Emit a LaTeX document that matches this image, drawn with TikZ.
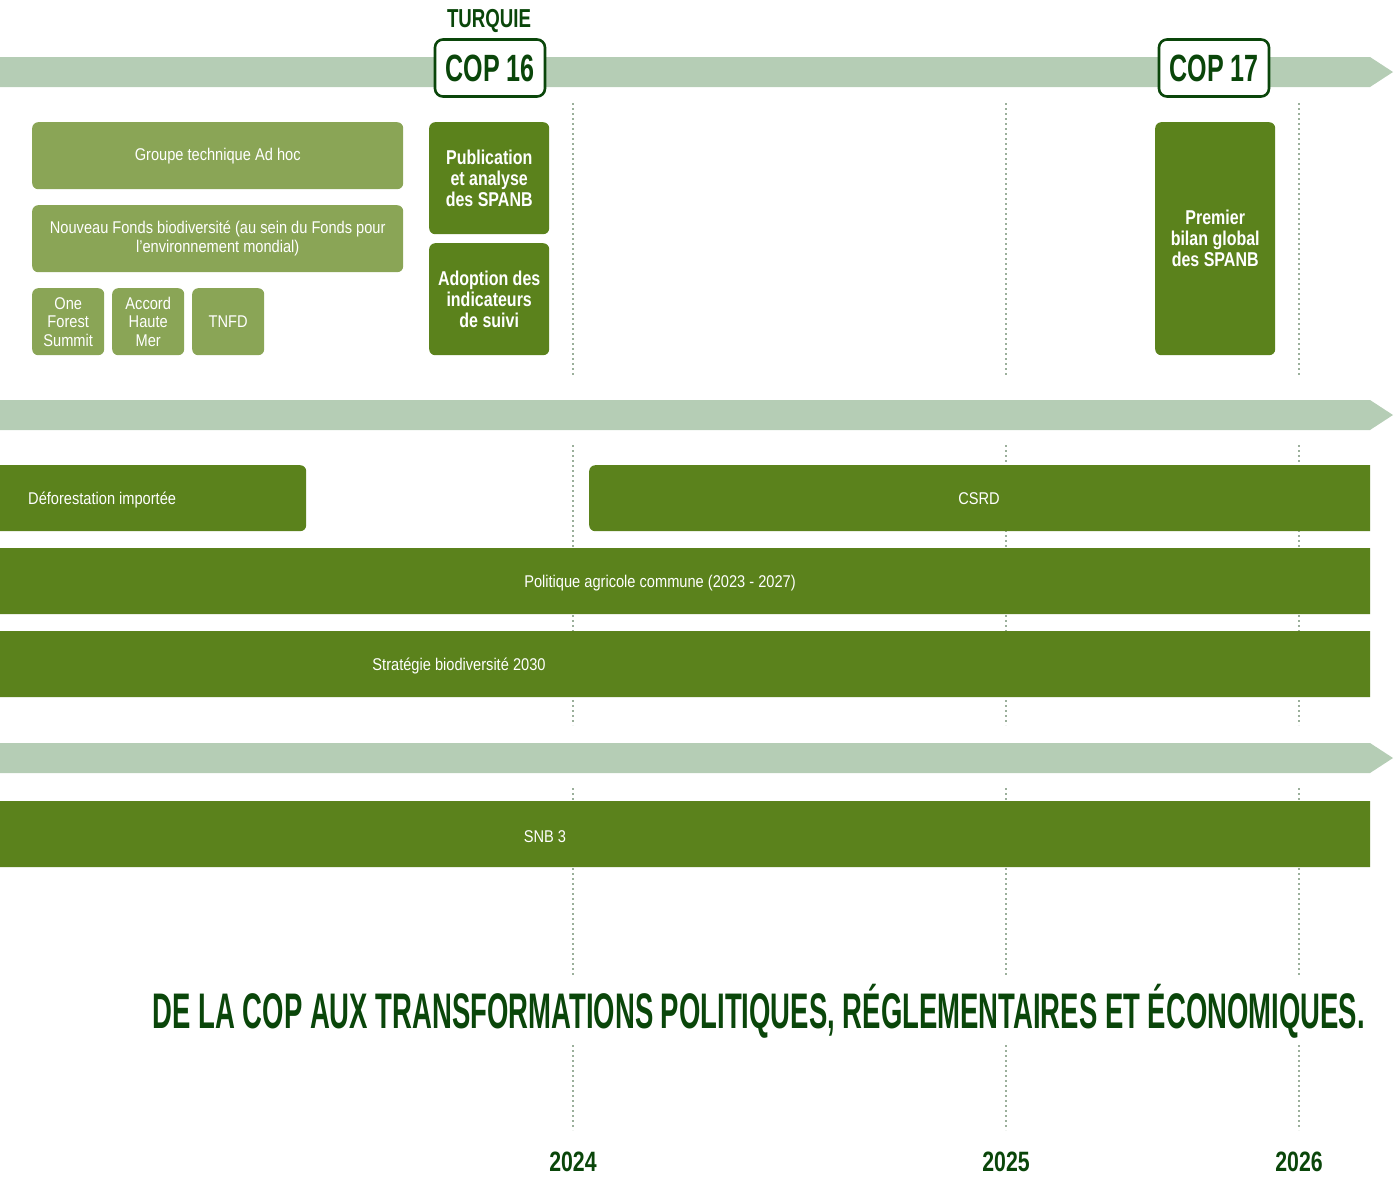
\documentclass[tikz,border=0pt]{standalone}
\usepackage{fontspec}
\setmainfont{Liberation Sans}[FakeStretch=0.86]
\newfontfamily\condfont{Liberation Sans}[FakeStretch=0.66]
\newfontfamily\boxfont{Liberation Sans}[FakeStretch=0.8]
\newfontfamily\yearfont{Liberation Sans}[FakeStretch=0.76]
\definecolor{band}{RGB}{181,205,181}
\definecolor{lightg}{RGB}{138,165,86}
\definecolor{darkg}{RGB}{91,130,28}
\definecolor{ink}{RGB}{10,70,10}
\definecolor{dotc}{RGB}{155,175,155}
\begin{document}
\begin{tikzpicture}[x=1pt,y=-1pt,
  bandshape/.style={fill=band},
  dotline/.style={draw=dotc, line width=2pt, dash pattern=on 2pt off 3pt},
  lbox/.style={fill=lightg, rounded corners=6pt, anchor=north west, inner sep=0pt, align=center, text=white, font=\fontsize{17}{18.5}\selectfont},
  dbox/.style={fill=darkg, rounded corners=6pt, anchor=north west, inner sep=0pt, align=center, text=white, font=\boxfont\bfseries\fontsize{20}{21}\selectfont},
  dbar/.style={fill=darkg, rounded corners=6pt, anchor=north west, inner sep=0pt, minimum height=66pt},
  bartext/.style={text=white, inner sep=0pt, font=\fontsize{17}{18.5}\selectfont},
  copbox/.style={draw=ink, line width=2.6pt, fill=white, rounded corners=8pt, minimum width=110pt, minimum height=57pt, inner sep=0pt, text=ink, font=\condfont\bfseries\fontsize{38}{38}\selectfont},
  yearlbl/.style={text=ink, inner sep=0pt, anchor=base, font=\yearfont\bfseries\fontsize{28}{28}\selectfont}
]
\useasboundingbox (0,0) rectangle (1395,1176);
% bands
\fill[bandshape] (0,57) -- (1370,57) -- (1393,72) -- (1370,87) -- (0,87) -- cycle;
\fill[bandshape] (0,400) -- (1370,400) -- (1393,415) -- (1370,430) -- (0,430) -- cycle;
\fill[bandshape] (0,743) -- (1370,743) -- (1393,758) -- (1370,773) -- (0,773) -- cycle;
% dotted year lines
\foreach \x in {573,1006,1299} {
  \foreach \a/\b in {103/375,445/725,788/975,1045/1130}
    \draw[dotline] (\x,\a) -- (\x,\b);
}
% COP boxes
\node[text=ink, inner sep=0pt, font=\condfont\bfseries\fontsize{26}{26}\selectfont] (turquie) at (489,21) {\resizebox{84pt}{\height}{TURQUIE}};
\node[copbox] (cop16) at (490,68) {COP 16};
\node[copbox] (cop17) at (1214,68) {COP 17};
% light boxes
\node[lbox, minimum width=371pt, minimum height=67pt] (groupe) at (32,122) {Groupe technique Ad hoc};
\node[lbox, minimum width=371pt, minimum height=67pt] (fonds) at (32,205) {Nouveau Fonds biodiversité (au sein du Fonds pour\\l'environnement mondial)};
\node[lbox, minimum width=72pt, minimum height=67pt] (forest) at (32,288) {One\\Forest\\Summit};
\node[lbox, minimum width=72pt, minimum height=67pt] (accord) at (112,288) {Accord\\Haute\\Mer};
\node[lbox, minimum width=72pt, minimum height=67pt] (tnfd) at (192,288) {TNFD};
% dark boxes
\node[dbox, minimum width=120pt, minimum height=112pt] (publi) at (429,122) {Publication\\et analyse\\des SPANB};
\node[dbox, minimum width=120pt, minimum height=112pt] (adopt) at (429,243) {Adoption des\\indicateurs\\de suivi};
\node[dbox, minimum width=120pt, minimum height=233pt] (bilan) at (1155,122) {Premier\\bilan global\\des SPANB};
% bars
\begin{scope}
\clip (0,0) rectangle (1370,1176);
\node[dbar, minimum width=326pt] (defo) at (-20,465) {};
\node[dbar, minimum width=800pt] (csrd) at (589,465) {};
\node[dbar, minimum width=1410pt] (pac) at (-20,548) {};
\node[dbar, minimum width=1410pt] (strat) at (-20,631) {};
\node[dbar, minimum width=1410pt] (snb) at (-20,801) {};
\end{scope}
\node[bartext, anchor=west] (defot) at (28,500) {Déforestation importée};
\node[bartext] (csrdt) at (979,499) {CSRD};
\node[bartext] (pact) at (660,583) {Politique agricole commune (2023 - 2027)};
\node[bartext] (stratt) at (459,666) {Stratégie biodiversité 2030};
\node[bartext] (snbt) at (545,837) {SNB 3};
% title
\node[text=ink, inner sep=0pt, anchor=base east, font=\condfont\bfseries\fontsize{50}{50}\selectfont] (title) at (1365,1028) {\resizebox{1212pt}{\height}{DE LA COP AUX TRANSFORMATIONS POLITIQUES, RÉGLEMENTAIRES ET ÉCONOMIQUES.}};
% years
\node[yearlbl] (y2024) at (573,1171) {2024};
\node[yearlbl] (y2025) at (1006,1171) {2025};
\node[yearlbl] (y2026) at (1299,1171) {2026};
\end{tikzpicture}
\end{document}
